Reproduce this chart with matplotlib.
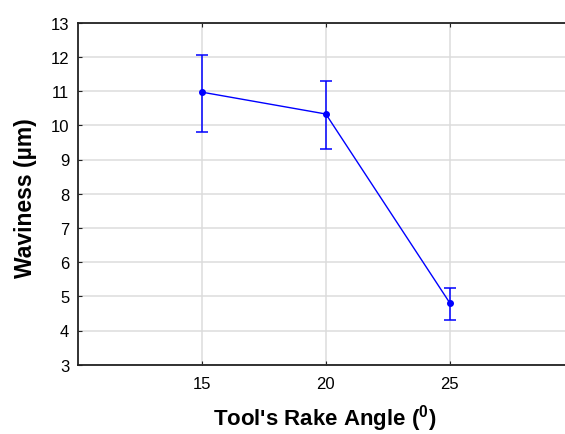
import matplotlib
matplotlib.use("Agg")
import matplotlib.pyplot as plt

rake_angle = [15, 20, 25]
waviness = [10.97, 10.33, 4.80]
err_low = [1.17, 1.02, 0.49]
err_high = [1.09, 0.97, 0.43]
y_ticks = [3, 4, 5, 6, 7, 8, 9, 10, 11, 12, 13]
x_ticks = [15, 20, 25]

plt.rcParams['font.family'] = ['Liberation Sans', 'DejaVu Sans']

fig = plt.figure(figsize=(5.65, 4.35), dpi=100)
W, H = 565, 435
left, right, top, bottom = 77.7, 574, 23.7, 365.7
ax = fig.add_axes([left / W, 1 - bottom / H, (right - left) / W, (bottom - top) / H])

ax.errorbar(rake_angle, waviness, yerr=[err_low, err_high], color='#0000ff',
            lw=1.0, elinewidth=1.1, capsize=4.6, capthick=1.1,
            marker='o', markersize=4, markerfacecolor='#0000ff', zorder=3)

ax.set_xlim(10, 30)
ax.set_ylim(3, 13)
ax.set_xticks(x_ticks)
ax.set_yticks(y_ticks)
ax.grid(True, color='#dcdcdc', lw=1.1)
ax.set_axisbelow(True)
ax.spines['right'].set_visible(False)
for s in ['left', 'bottom', 'top']:
    ax.spines[s].set_linewidth(1.3)
    ax.spines[s].set_color('#222222')
ax.tick_params(axis='x', direction='in', length=3, top=True, labelsize=12, pad=8, color='#222222')
ax.tick_params(axis='y', direction='in', length=3, labelsize=12, pad=6, color='#222222')

ax.set_xlabel("Tool's Rake Angle ($\\mathregular{^0}$)", fontsize=16, fontweight='bold',
              va='baseline', ha='center')
ax.xaxis.set_label_coords((325 - left) / (right - left), (bottom - 426) / (bottom - top))
ax.set_ylabel("Waviness (\u00b5m)", fontsize=16.5, fontweight='bold', va='center', ha='center')
ax.yaxis.set_label_coords((26 - left) / (right - left), 1 - (198.5 - top) / (bottom - top))

fig.savefig("out.png", dpi=100)
